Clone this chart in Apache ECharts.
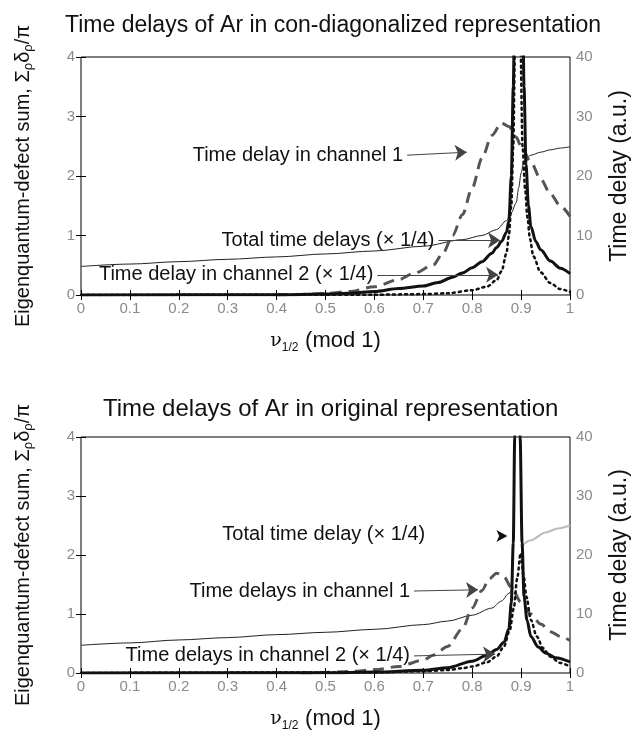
<!DOCTYPE html>
<html><head><meta charset="utf-8">
<script src="https://cdn.jsdelivr.net/npm/echarts@6/dist/echarts.min.js"></script>
<style>html,body{margin:0;padding:0;background:#fff}#c{width:639px;height:735px}</style>
</head><body><div id="c"></div>
<script>
// ---------- data ----------
const xTickLabels = ['0','0.1','0.2','0.3','0.4','0.5','0.6','0.7','0.8','0.9','1'];
const leftTickLabels = ['0','1','2','3','4'];
const rightTickLabels = ['0','10','20','30','40'];

// Top panel: con-diagonalized representation
const topEigenX = [0,0.1,0.2,0.3,0.4,0.5,0.6,0.7,0.78,0.82,0.85,0.87,0.88,0.89,0.895,0.9,0.905,0.91,0.92,0.94,0.96,0.98,1.0];
const topEigenY = [0.48,0.52,0.56,0.6,0.64,0.69,0.74,0.82,0.93,1.0,1.1,1.25,1.38,1.55,1.8,2.05,2.22,2.3,2.35,2.4,2.44,2.47,2.49];
const topCh1X = [0.4,0.45,0.5,0.55,0.6,0.65,0.68,0.72,0.74,0.76,0.78,0.8,0.82,0.84,0.86,0.875,0.89,0.9,0.92,0.94,0.96,0.98,1.0];
const topCh1Y = [0,0.1,0.25,0.6,1.4,2.6,3.6,5.0,7.0,10.0,13.5,18.0,23.0,26.8,28.9,28.3,26.5,25.0,22.3,19.5,17.0,15.0,13.2];
const topTotX = [0,0.4,0.5,0.55,0.6,0.65,0.7,0.73,0.76,0.78,0.8,0.82,0.84,0.85,0.86,0.87,0.875,0.88,0.884,0.888,0.895,0.902,0.906,0.91,0.915,0.92,0.93,0.94,0.96,0.98,1.0];
const topTotY = [0,0.05,0.15,0.3,0.6,1.1,1.5,2.1,3.0,3.7,4.6,5.6,7.0,8.0,9.0,10.5,12.5,20,35,60,120,60,35,22,15,11.5,9.0,7.6,5.7,4.5,3.6];
const topCh2X = [0,0.6,0.7,0.75,0.8,0.83,0.85,0.86,0.87,0.875,0.88,0.884,0.888,0.893,0.898,0.903,0.908,0.913,0.918,0.925,0.94,0.96,0.98,1.0];
const topCh2Y = [0,0.05,0.15,0.3,0.8,1.4,2.5,4.0,7.0,10,15,25,45,90,45,25,18,13,9.5,6.5,3.8,2.0,1.0,0.5];

// Bottom panel: original representation
const botEigenX = [0,0.1,0.2,0.3,0.4,0.5,0.6,0.7,0.75,0.8,0.84,0.86,0.875,0.885];
const botEigenY = [0.47,0.51,0.56,0.6,0.65,0.69,0.74,0.82,0.88,0.98,1.1,1.22,1.35,1.45];
const botEigenTailX = [0.9,0.92,0.95,0.975,1.0];
const botEigenTailY = [2.15,2.25,2.38,2.45,2.5];
const botCh1X = [0.45,0.5,0.55,0.6,0.65,0.7,0.72,0.75,0.78,0.8,0.82,0.835,0.85,0.865,0.88,0.9,0.92,0.94,0.96,0.98,1.0];
const botCh1Y = [0,0.1,0.25,0.55,1.1,2.2,3.0,4.5,7.5,11,14,16,16.9,16.3,14.5,12,10,8.3,7.0,6.2,5.5];
const botTotX = [0,0.5,0.6,0.7,0.75,0.8,0.83,0.85,0.865,0.875,0.88,0.884,0.887,0.892,0.898,0.902,0.906,0.912,0.92,0.935,0.95,0.97,1.0];
const botTotY = [0,0.05,0.15,0.45,0.9,2.0,3.0,4.0,5.2,7.5,12,22,40,110,40,22,13,9,6.2,4.4,3.4,2.6,1.9];
const botCh2X = [0,0.6,0.7,0.75,0.78,0.8,0.83,0.85,0.865,0.877,0.885,0.892,0.899,0.905,0.911,0.92,0.932,0.945,0.959,0.98,1.0];
const botCh2Y = [0,0.1,0.3,0.5,0.8,1.1,1.8,2.8,4.5,7.3,11,16,20.3,16.5,12.9,9,6.2,4.2,2.8,1.7,1.1];

// ---------- chart ----------
const FONT = '"Liberation Sans", Arial, sans-serif';
const TXT = '#111';
const TICKC = '#8a8a8a';
const zip = (xs, ys) => xs.map((x, i) => [x, ys[i]]);

const chart = echarts.init(document.getElementById('c'), null, {renderer: 'canvas'});

const grids = [
  {left: 81, top: 57, width: 489, height: 238},
  {left: 81, top: 437, width: 489, height: 236}
];

function xAxes(g) {
  return [
    {
      gridIndex: g, type: 'value', min: 0, max: 1, interval: 0.1, position: 'bottom',
      axisLine: {show: false},
      axisTick: {show: true, inside: true, length: 5, lineStyle: {color: '#000'}},
      axisLabel: {show: true, margin: 6, fontSize: 15, color: TICKC, fontFamily: FONT,
        formatter: (v) => xTickLabels[Math.round(v * 10)]},
      splitLine: {show: false},
      name: '{nu|ν}{sub|1/2}  {m|(mod 1)}',
      nameLocation: 'middle', nameGap: 33,
      nameTextStyle: {color: TXT, rich: {
        nu: {fontSize: 19, fontFamily: '"DejaVu Serif", serif', color: TXT, lineHeight: 26, verticalAlign: 'middle'},
        sub: {fontSize: 12, fontFamily: FONT, color: TXT, lineHeight: 13, verticalAlign: 'bottom'},
        m: {fontSize: 22, fontFamily: FONT, color: TXT, lineHeight: 26, verticalAlign: 'middle'}
      }}
    },
    {
      gridIndex: g, type: 'value', min: 0, max: 1, interval: 0.1, position: 'top',
      axisLine: {show: false},
      axisTick: {show: true, inside: true, length: 5, lineStyle: {color: '#000'}},
      axisLabel: {show: false}, splitLine: {show: false}
    }
  ];
}

function yAxes(g) {
  return [
    {
      gridIndex: g, type: 'value', min: 0, max: 4, interval: 1, position: 'left',
      axisLine: {show: false},
      axisTick: {show: true, inside: true, length: 5, lineStyle: {color: '#000'}},
      axisLabel: {margin: 6, fontSize: 15, color: TICKC, fontFamily: FONT,
        formatter: (v) => leftTickLabels[Math.round(v)]},
      splitLine: {show: false},
      name: '{a|Eigenquantum-defect sum, Σ}{s|ρ}{a|δ}{s|ρ}{a|/π}',
      nameLocation: 'middle', nameGap: 46, nameRotate: 90,
      nameTextStyle: {color: TXT, rich: {
        a: {fontSize: 20, fontFamily: FONT, color: TXT, lineHeight: 23, verticalAlign: 'middle'},
        s: {fontSize: 13, fontFamily: FONT, color: TXT, lineHeight: 13, verticalAlign: 'bottom'}
      }}
    },
    {
      gridIndex: g, type: 'value', min: 0, max: 40, interval: 10, position: 'right',
      axisLine: {show: false},
      axisTick: {show: true, inside: true, length: 5, lineStyle: {color: '#000'}},
      axisLabel: {margin: 6, fontSize: 15, color: TICKC, fontFamily: FONT,
        formatter: (v) => rightTickLabels[Math.round(v / 10)]},
      splitLine: {show: false},
      name: 'Time delay (a.u.)',
      nameLocation: 'middle', nameGap: 38, nameRotate: 90,
      nameTextStyle: {color: TXT, fontSize: 23, fontFamily: FONT}
    }
  ];
}

const baseLine = {type: 'line', showSymbol: false, symbol: 'none', silent: true, animation: false, smooth: 0.3, smoothMonotone: 'x', clip: true};

function arrowLines(items) {
  return {
    silent: true, animation: false,
    symbol: ['none', 'arrow'], symbolSize: 12,
    lineStyle: {color: '#444', width: 1, type: 'solid'},
    label: {show: true, position: 'start', formatter: '{b}', fontSize: 20, color: TXT, fontFamily: FONT, distance: 4},
    data: items
  };
}

const series = [
  // top panel
  Object.assign({}, baseLine, {xAxisIndex: 0, yAxisIndex: 0, data: zip(topEigenX, topEigenY),
    lineStyle: {color: '#222', width: 1}}),
  Object.assign({}, baseLine, {xAxisIndex: 0, yAxisIndex: 1, data: zip(topCh1X, topCh1Y),
    lineStyle: {color: '#555', width: 3, type: [11, 7]},
    markLine: arrowLines([
      [{name: 'Time delay in channel 1', coord: [0.667, 23.5]}, {coord: [0.789, 24.0]}],
      [{name: 'Total time delays (× 1/4)', coord: [0.731, 9.2]}, {coord: [0.857, 9.2]}],
      [{name: 'Time delay in channel 2 (× 1/4)', coord: [0.606, 3.4]}, {coord: [0.853, 3.4]}]
    ])}),
  Object.assign({}, baseLine, {xAxisIndex: 0, yAxisIndex: 1, data: zip(topTotX, topTotY),
    lineStyle: {color: '#111', width: 3}}),
  Object.assign({}, baseLine, {xAxisIndex: 0, yAxisIndex: 1, data: zip(topCh2X, topCh2Y),
    lineStyle: {color: '#111', width: 2.5, type: [2, 4], cap: 'round'}}),
  // bottom panel
  Object.assign({}, baseLine, {xAxisIndex: 2, yAxisIndex: 2, data: zip(botEigenX, botEigenY),
    lineStyle: {color: '#222', width: 1}}),
  Object.assign({}, baseLine, {xAxisIndex: 2, yAxisIndex: 2, data: zip(botEigenTailX, botEigenTailY),
    lineStyle: {color: '#bbb', width: 2}}),
  Object.assign({}, baseLine, {xAxisIndex: 2, yAxisIndex: 3, data: zip(botCh1X, botCh1Y),
    lineStyle: {color: '#555', width: 3, type: [11, 7]},
    markLine: arrowLines([
      [{name: 'Time delays in channel 1', coord: [0.681, 13.9]}, {coord: [0.812, 14.1]}],
      [{name: 'Time delays in channel 2 (× 1/4)', coord: [0.681, 2.9]}, {coord: [0.847, 3.2]}]
    ]),
    markPoint: {
      silent: true, animation: false,
      data: [
        {coord: [0.712, 23.4], symbol: 'circle', symbolSize: 0,
         label: {show: true, position: 'left', distance: 4, formatter: 'Total time delay (× 1/4)', fontSize: 20, color: TXT, fontFamily: FONT}},
        {coord: [0.872, 23.2], symbol: 'arrow', symbolRotate: -90, symbolSize: [9, 11],
         itemStyle: {color: '#111'}, label: {show: false}}
      ]
    }}),
  Object.assign({}, baseLine, {xAxisIndex: 2, yAxisIndex: 3, data: zip(botTotX, botTotY),
    lineStyle: {color: '#111', width: 3}}),
  Object.assign({}, baseLine, {xAxisIndex: 2, yAxisIndex: 3, data: zip(botCh2X, botCh2Y),
    lineStyle: {color: '#111', width: 2.5, type: [2, 4], cap: 'round'}})
];

chart.setOption({
  animation: false,
  backgroundColor: '#fff',
  title: [
    {text: 'Time delays of Ar in con-diagonalized representation', left: 60, top: 9,
     textStyle: {fontSize: 23, fontWeight: 'normal', color: TXT, fontFamily: FONT}},
    {text: 'Time delays of Ar in original representation', left: 98, top: 392,
     textStyle: {fontSize: 24, fontWeight: 'normal', color: TXT, fontFamily: FONT}}
  ],
  grid: grids.map(g => Object.assign({show: true, borderColor: '#000', borderWidth: 1, backgroundColor: 'transparent', containLabel: false}, g)),
  xAxis: [...xAxes(0), ...xAxes(1)],
  yAxis: [...yAxes(0), ...yAxes(1)],
  series: series
});
</script>
</body></html>
